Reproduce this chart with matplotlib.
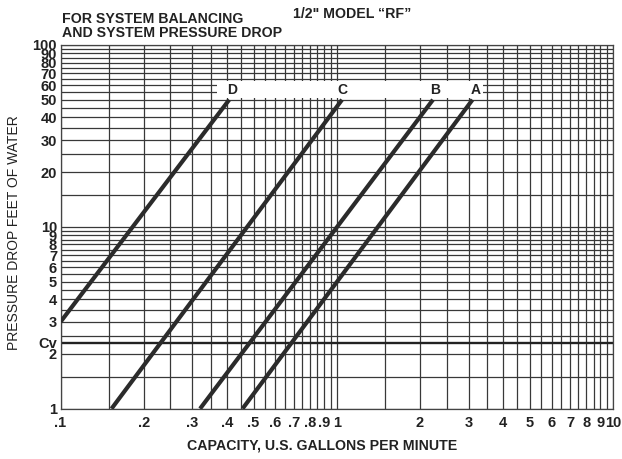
import numpy as np
import matplotlib
matplotlib.use('Agg')
import matplotlib.pyplot as plt
from matplotlib.patches import Rectangle

# ---- data ----
curve_names = ['A', 'B', 'C', 'D']
flow_start = [0.456, 0.320, 0.153, 0.100]
drop_start = [1.0, 1.0, 1.0, 3.0]
flow_end = [3.10, 2.23, 1.045, 0.408]
drop_end = [50.0, 50.0, 50.0, 50.0]
label_flow = [3.17, 2.27, 1.05, 0.417]
label_drop = 56.4
cv_drop = 2.31

x_tick_vals = [0.1, 0.2, 0.3, 0.4, 0.5, 0.6, 0.7, 0.8, 0.9, 1, 2, 3, 4, 5, 6, 7, 8, 9, 10]
x_tick_labels = ['.1', '.2', '.3', '.4', '.5', '.6', '.7', '.8', '.9', '1',
                 '2', '3', '4', '5', '6', '7', '8', '9', '10']
y_tick_vals = [1, 2, 2.31, 3, 4, 5, 6, 7, 8, 9, 10, 20, 30, 40, 50, 60, 70, 80, 90, 100]
y_tick_labels = ['1', '2', 'Cv', '3', '4', '5', '6', '7', '8', '9', '10',
                 '20', '30', '40', '50', '60', '70', '80', '90', '100']

NARROW = ['Liberation Sans Narrow', 'Liberation Sans', 'DejaVu Sans']
SANS = ['Liberation Sans', 'DejaVu Sans']

fig = plt.figure(figsize=(6.22, 4.59), dpi=100)
W, H = 622, 459
ax = fig.add_axes([60.5 / W, 1 - 408.7 / H, (613 - 60.5) / W, (408.7 - 45) / H])
ax.set_xscale('log')
ax.set_yscale('log')
ax.set_xlim(0.1, 10)
ax.set_ylim(1, 100)

# grid
grid_x = np.concatenate([np.arange(0.1, 1.0001, 0.05), np.arange(1.5, 10.0001, 0.5)])
grid_y = np.concatenate([np.arange(1, 10, 0.5), np.arange(10, 100.01, 5)])
for gx in grid_x:
    ax.axvline(gx, color='#383838', lw=0.9, zorder=1)
for gy in grid_y:
    ax.axhline(gy, color='#383838', lw=0.9, zorder=1)
ax.axhline(cv_drop, color='#222222', lw=1.7, zorder=1.5)

# white band behind the curve labels
ax.add_patch(Rectangle((0.368, 51.3), 3.37 - 0.368, 63.4 - 51.3,
                       facecolor='white', edgecolor='none', zorder=2))

for name, x0, y0, x1, y1, lx in zip(curve_names, flow_start, drop_start,
                                   flow_end, drop_end, label_flow):
    ax.plot([x0, x1], [y0, y1], color='#2b2b2b', lw=3.0, solid_capstyle='butt', zorder=3)
    ax.text(lx, label_drop, name, ha='center', va='center', fontsize=10,
            fontweight='bold', family=NARROW, color='#222222', zorder=4)

ax.xaxis.set_minor_locator(matplotlib.ticker.NullLocator())
ax.yaxis.set_minor_locator(matplotlib.ticker.NullLocator())
ax.set_xticks(x_tick_vals)
ax.set_xticklabels(x_tick_labels)
ax.set_yticks(y_tick_vals)
ax.set_yticklabels(y_tick_labels)
ax.tick_params(axis='both', length=0, colors='#222222')
ax.tick_params(axis='x', pad=5.5)
ax.tick_params(axis='y', pad=2.5)
for lab in ax.get_xticklabels() + ax.get_yticklabels():
    lab.set_fontfamily(NARROW)
    lab.set_fontweight('bold')
    lab.set_fontsize(10.5)
for sp in ax.spines.values():
    sp.set_color('#444444')
    sp.set_linewidth(0.9)

fig.text(62 / W, 1 - 23 / H, 'FOR SYSTEM BALANCING', fontsize=10.2, fontweight='bold',
         family=SANS, color='#222222', va='baseline', ha='left')
fig.text(62 / W, 1 - 37 / H, 'AND SYSTEM PRESSURE DROP', fontsize=10.2, fontweight='bold',
         family=SANS, color='#222222', va='baseline', ha='left')
fig.text(293 / W, 1 - 18 / H, '1/2" MODEL \u201cRF\u201d', fontsize=10.2, fontweight='bold',
         family=SANS, color='#222222', va='baseline', ha='left')
fig.text(14 / W, 1 - 233 / H, 'PRESSURE DROP FEET OF WATER', fontsize=10, rotation=90,
         family=SANS, color='#222222', va='center', ha='center')
fig.text(322 / W, 1 - 450 / H, 'CAPACITY, U.S. GALLONS PER MINUTE', fontsize=10.2,
         fontweight='bold', family=SANS, color='#222222', va='baseline', ha='center')

fig.savefig('out.png', dpi=100, facecolor='white')
